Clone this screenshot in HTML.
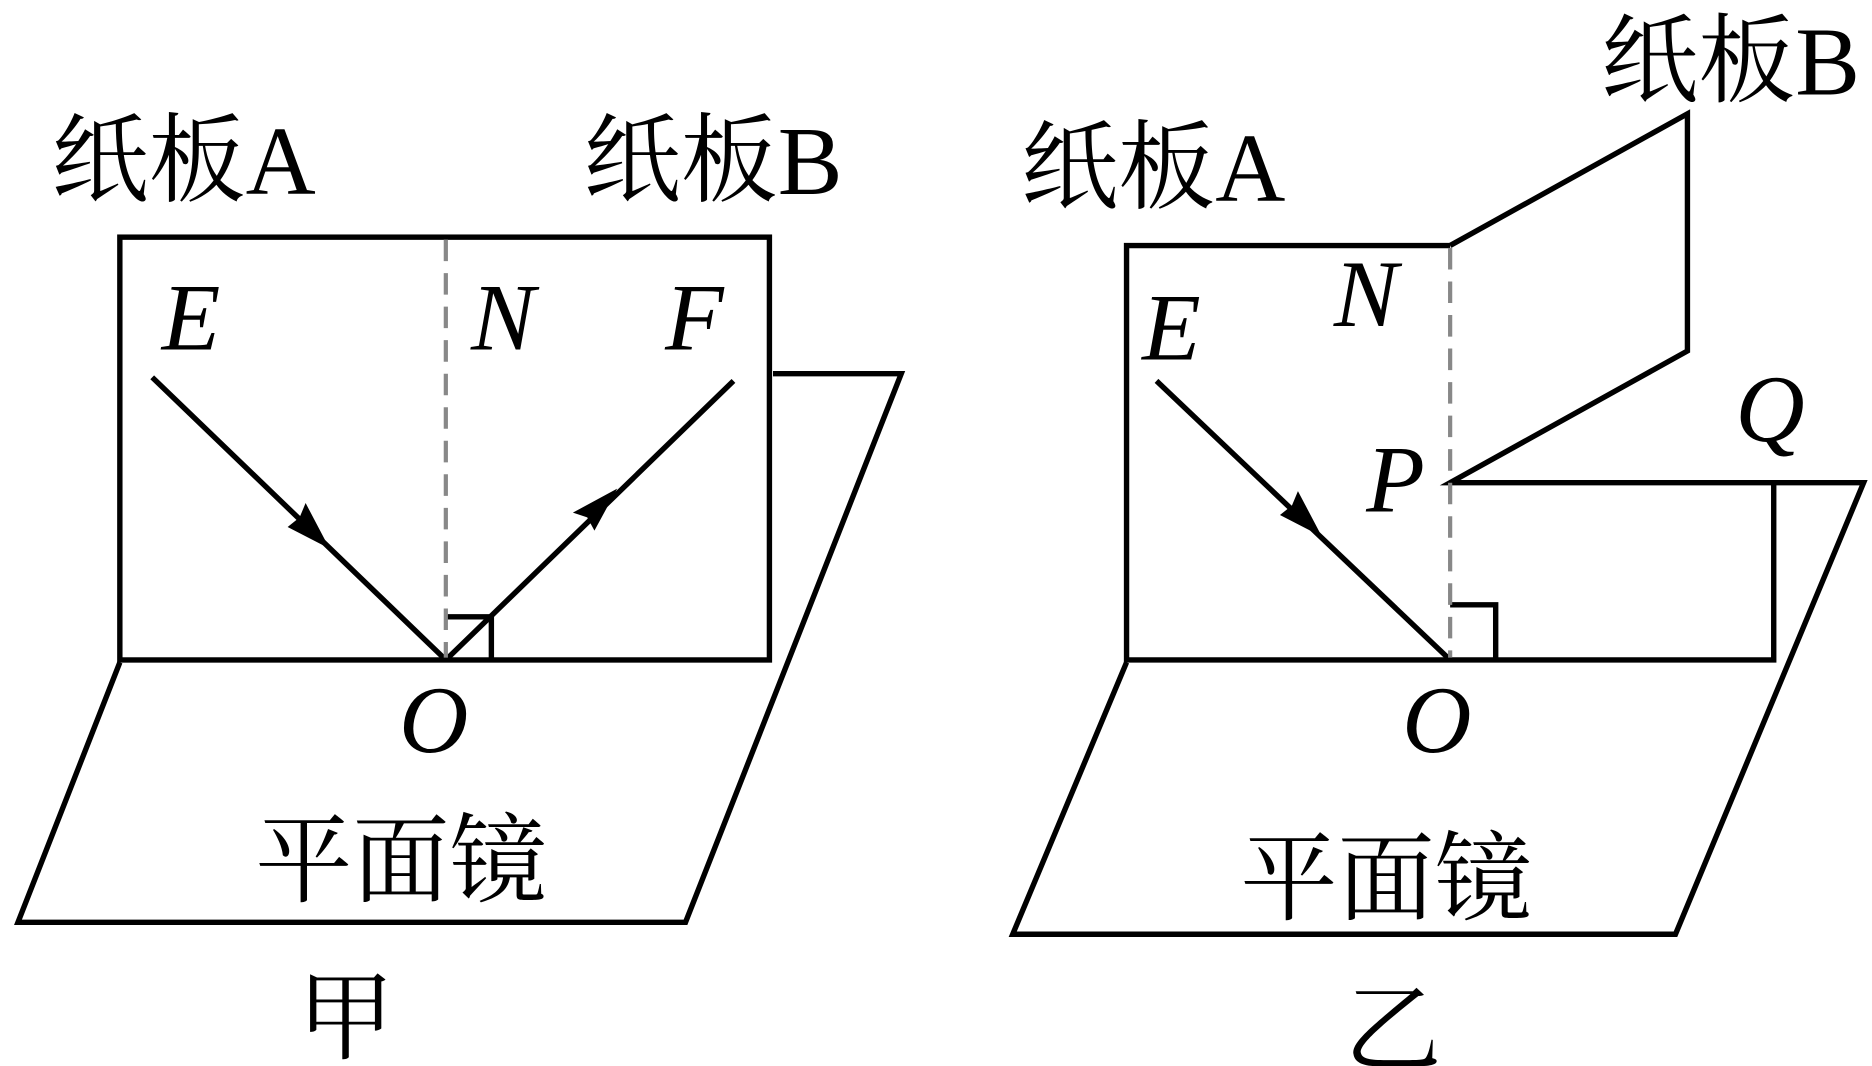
<!DOCTYPE html>
<html><head><meta charset="utf-8"><style>
html,body{margin:0;padding:0;background:#fff;}
svg{display:block;}
.c{font-family:"Liberation Serif","Noto Serif CJK SC",serif;font-size:81px;fill:#000;}
.i{font-family:"Liberation Serif",serif;font-style:italic;font-size:80px;fill:#000;}
</style></head><body>
<svg width="1872" height="1066" viewBox="0 0 1562 890" preserveAspectRatio="none" xmlns="http://www.w3.org/2000/svg">
<g fill="none" stroke="#000" stroke-width="4.5" stroke-linejoin="miter">
<rect x="100" y="198" width="542" height="353"/>
<polyline points="100,553 15,770 572,770 752,312 645,312"/>
<line x1="127" y1="315" x2="372" y2="551"/>
<line x1="612" y1="318" x2="372" y2="551"/>
<polyline points="372,515 410,515 410,551"/>
<polyline points="1210,205 940,205 940,551 1480,551 1480,403"/>
<polyline points="1210,205 1408,95 1408,293 1210,403 1555,403 1398,780 845,780 940,553"/>
<line x1="965" y1="318" x2="1210" y2="551"/>
<polyline points="1210,505 1248,505 1248,551"/>
</g>
<g stroke="#888" stroke-width="3.5" stroke-dasharray="18,10">
<line x1="372" y1="200" x2="372" y2="549"/>
<line x1="1210" y1="207" x2="1210" y2="549"/>
</g>
<g fill="#000">
<polygon points="275,458 240,440 250,432 255,420"/>
<polygon points="515,408 478,428 490,432 496,443"/>
<polygon points="1103,448 1068,430 1078,422 1083,410"/>
</g>
<text class="c" x="43" y="162">纸板A</text>
<text class="c" x="487" y="162">纸板B</text>
<text class="c" x="852" y="168">纸板A</text>
<text class="c" x="1336" y="79">纸板B</text>
<text class="c" x="213" y="747">平面镜</text>
<text class="c" x="1035" y="762">平面镜</text>
<text class="c" x="248" y="878">甲</text>
<text class="c" x="1122" y="888">乙</text>
<text class="i" x="135" y="292">E</text>
<text class="i" x="393" y="292">N</text>
<text class="i" x="555" y="292">F</text>
<text class="i" x="333" y="628">O</text>
<text class="i" x="953" y="300">E</text>
<text class="i" x="1113" y="272">N</text>
<text class="i" x="1140" y="427">P</text>
<text class="i" x="1448" y="368">Q</text>
<text class="i" x="1170" y="628">O</text>
</svg>
</body></html>
